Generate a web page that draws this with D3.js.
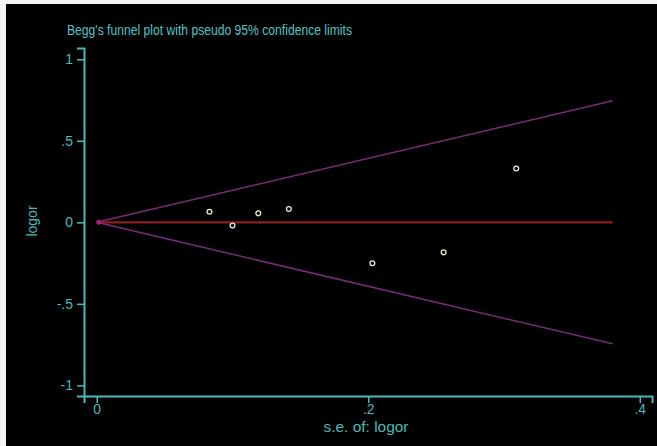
<!DOCTYPE html>
<html>
<head>
<meta charset="utf-8">
<script src="https://cdn.jsdelivr.net/npm/d3@7"></script>
<style>
  html, body { margin: 0; padding: 0; background: #ffffff; }
  svg { display: block; }
  text { font-family: "Liberation Sans", Arial, sans-serif; }
</style>
</head>
<body>
<svg id="chart" width="657" height="446"></svg>
<script>
// Study estimates: standard error of log odds ratio and log odds ratio
const seValues = [0.083, 0.100, 0.119, 0.1415, 0.203, 0.2555, 0.309];
const logorValues = [0.065, -0.020, 0.055, 0.082, -0.251, -0.184, 0.330];

// Pseudo 95% confidence limits (endpoints of the funnel) and pooled estimate
const limitSE = [0, 0.38];
const upperLimit = [0, 0.745];
const lowerLimit = [0, -0.745];
const pooledLogor = [0, 0];

const xTicks = [0, 0.2, 0.4];
const xTickLabels = ["0", ".2", ".4"];
const yTicks = [1, 0.5, 0, -0.5, -1];
const yTickLabels = ["1", ".5", "0", "-.5", "-1"];

const titleText = "Begg's funnel plot with pseudo 95% confidence limits";
const xTitle = "s.e. of: logor";
const yTitle = "logor";

const teal = "#45bcbc";
const svg = d3.select("#chart");
const W = 657, H = 446;

// Frame: light strip on top/left, black plotting canvas
svg.append("rect").attr("width", W).attr("height", H).attr("fill", "#f4f4f4");
svg.append("rect").attr("x", 6).attr("y", 4).attr("width", W - 6).attr("height", H - 4).attr("fill", "#000000");

const x = d3.scaleLinear().domain([-0.0094, 0.409]).range([84, 652]);
const y = d3.scaleLinear().domain([-1.065, 1.069]).range([396, 48]);

// Axes
const yAxis = d3.axisLeft(y).tickValues(yTicks)
  .tickFormat((d, i) => yTickLabels[i]).tickSizeOuter(0).tickSize(7).tickPadding(4);
const xAxis = d3.axisBottom(x).tickValues(xTicks)
  .tickFormat((d, i) => xTickLabels[i]).tickSizeOuter(0).tickSize(7).tickPadding(1);

const gy = svg.append("g").attr("transform", "translate(84,0)").call(yAxis);
const gx = svg.append("g").attr("transform", "translate(0,396)").call(xAxis);
[gx, gy].forEach(g => {
  g.select(".domain").attr("stroke", teal).attr("stroke-width", 2);
  g.selectAll(".tick line").attr("stroke", teal).attr("stroke-width", 1.5);
  g.selectAll(".tick text").attr("fill", teal).attr("font-size", 14)
    .attr("font-family", "Liberation Sans, Arial, sans-serif");
});

// Pooled estimate line
const line = d3.line().x(d => x(d[0])).y(d => y(d[1]));
svg.append("path")
  .attr("d", line(d3.zip(limitSE, pooledLogor)))
  .attr("stroke", "#8e1f24").attr("stroke-width", 2.2).attr("fill", "none");

// Confidence limit lines
[upperLimit, lowerLimit].forEach(lim => {
  svg.append("path")
    .attr("d", line(d3.zip(limitSE, lim)))
    .attr("stroke", "#7a2b7a").attr("stroke-width", 1.5).attr("fill", "none");
});

// Vertex of the funnel
svg.append("circle").attr("cx", x(0) + 2).attr("cy", y(0))
  .attr("r", 2.5).attr("fill", "#b0206a");

// Study points
svg.append("g").selectAll("circle")
  .data(d3.zip(seValues, logorValues))
  .join("circle")
  .attr("cx", d => x(d[0]))
  .attr("cy", d => y(d[1]))
  .attr("r", 2.4)
  .attr("fill", "none")
  .attr("stroke", "#efe8c8")
  .attr("stroke-width", 1.3);

// Titles
svg.append("text")
  .attr("x", 67).attr("y", 35)
  .attr("fill", "#4cc6c6").attr("font-size", 14)
  .attr("textLength", 285).attr("lengthAdjust", "spacingAndGlyphs")
  .text(titleText);

svg.append("text")
  .attr("x", 366).attr("y", 432)
  .attr("text-anchor", "middle")
  .attr("fill", teal).attr("font-size", 14)
  .attr("textLength", 85).attr("lengthAdjust", "spacingAndGlyphs")
  .text(xTitle);

svg.append("text")
  .attr("transform", "translate(37,221) rotate(-90)")
  .attr("text-anchor", "middle")
  .attr("fill", teal).attr("font-size", 14)
  .text(yTitle);
</script>
</body>
</html>
